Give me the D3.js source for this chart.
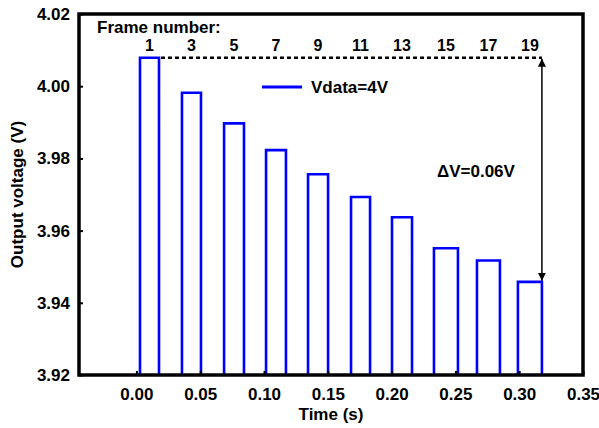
<!DOCTYPE html>
<html>
<head>
<meta charset="utf-8">
<script src="https://cdn.jsdelivr.net/npm/d3@7"></script>
<style>
  html, body { margin: 0; padding: 0; background: #fff; }
  svg { display: block; font-family: "Liberation Sans", Arial, sans-serif; font-weight: bold; }
  .tick-label { font-size: 17px; fill: #000; }
  .title { font-size: 17px; fill: #000; }
</style>
</head>
<body>
<div id="chart"></div>
<script>
// frame pulses (time in s, voltage in V)
const frameNumbers = [1, 3, 5, 7, 9, 11, 13, 15, 17, 19];
const pulseStart = [0.0028, 0.0357, 0.0687, 0.1016, 0.1345, 0.1682, 0.2003, 0.2332, 0.2669, 0.2990];
const pulseEnd = [0.0177, 0.0506, 0.0843, 0.1172, 0.1502, 0.1831, 0.2160, 0.2520, 0.2849, 0.3178];
const pulseVoltage = [4.0079, 3.9982, 3.9897, 3.9823, 3.9756, 3.9693, 3.9637, 3.9551, 3.9517, 3.9458];
const baseVoltage = 3.90;

const xTicks = [0.0, 0.05, 0.1, 0.15, 0.2, 0.25, 0.3, 0.35];
const yTicks = [3.92, 3.94, 3.96, 3.98, 4.0, 4.02];

const width = 599;
const height = 428;
const margin = { top: 14, right: 16, bottom: 53, left: 79 };

const svg = d3.select("#chart").append("svg")
  .attr("width", width)
  .attr("height", height);

const x = d3.scaleLinear()
  .domain([-0.045, 0.35])
  .range([margin.left, width - margin.right]);
const y = d3.scaleLinear()
  .domain([3.92, 4.02])
  .range([height - margin.bottom, margin.top]);

svg.append("clipPath").attr("id", "plot-clip")
  .append("rect")
  .attr("x", margin.left)
  .attr("y", margin.top)
  .attr("width", width - margin.left - margin.right)
  .attr("height", height - margin.top - margin.bottom);

// square-wave trace built from the pulse arrays
const trace = [[pulseStart[0] - 0.05, baseVoltage]];
pulseStart.forEach((start, i) => {
  trace.push([start, baseVoltage], [start, pulseVoltage[i]],
    [pulseEnd[i], pulseVoltage[i]], [pulseEnd[i], baseVoltage]);
});
trace.push([0.35, baseVoltage]);

svg.append("path")
  .datum(trace)
  .attr("clip-path", "url(#plot-clip)")
  .attr("fill", "none")
  .attr("stroke", "#0000ff")
  .attr("stroke-width", 2.6)
  .attr("stroke-linejoin", "miter")
  .attr("d", d3.line().x((d) => x(d[0])).y((d) => y(d[1])));

// axes: thin inward ticks, labels drawn by d3.axis
const axisX = svg.append("g")
  .attr("transform", `translate(0,${y.range()[0]})`)
  .call(d3.axisBottom(x).tickValues(xTicks).tickSizeInner(-4).tickSizeOuter(0).tickPadding(13)
    .tickFormat(d3.format(".2f")));
const axisY = svg.append("g")
  .attr("transform", `translate(${x.range()[0]},0)`)
  .call(d3.axisLeft(y).tickValues(yTicks).tickSizeInner(-4).tickSizeOuter(0).tickPadding(9)
    .tickFormat(d3.format(".2f")));

[axisX, axisY].forEach((axis) => {
  axis.select(".domain").remove();
  axis.selectAll(".tick line").attr("stroke", "#000").attr("stroke-width", 2);
  axis.selectAll(".tick text")
    .attr("class", "tick-label")
    .attr("font-family", null)
    .attr("font-size", null);
});

// frame box
svg.append("rect")
  .attr("x", x.range()[0])
  .attr("y", y.range()[1])
  .attr("width", x.range()[1] - x.range()[0])
  .attr("height", y.range()[0] - y.range()[1])
  .attr("fill", "none")
  .attr("stroke", "#000")
  .attr("stroke-width", 3.5);

// axis titles
svg.append("text")
  .attr("class", "title")
  .attr("x", (x.range()[0] + x.range()[1]) / 2)
  .attr("y", 420)
  .attr("text-anchor", "middle")
  .text("Time (s)");
svg.append("text")
  .attr("class", "title")
  .attr("transform", `translate(23,${(y.range()[0] + y.range()[1]) / 2}) rotate(-90)`)
  .attr("text-anchor", "middle")
  .text("Output voltage (V)");

// frame numbers over each pulse
svg.append("text")
  .attr("class", "title")
  .attr("x", 97)
  .attr("y", 33)
  .text("Frame number:");
svg.selectAll(".frame-label")
  .data(frameNumbers)
  .join("text")
  .attr("class", "frame-label title")
  .attr("x", (d, i) => x((pulseStart[i] + pulseEnd[i]) / 2))
  .attr("y", 51)
  .attr("text-anchor", "middle")
  .style("font-size", "16px")
  .text((d) => d);

// legend
svg.append("line")
  .attr("x1", 262).attr("x2", 302)
  .attr("y1", 87).attr("y2", 87)
  .attr("stroke", "#0000ff")
  .attr("stroke-width", 3);
svg.append("text")
  .attr("class", "title")
  .attr("x", 311)
  .attr("y", 93)
  .text("Vdata=4V");

// delta-V annotation: dashed reference + double arrow
const last = pulseVoltage.length - 1;
const arrowX = x(pulseEnd[last]);
svg.append("line")
  .attr("x1", x(pulseEnd[0]) + 2).attr("x2", arrowX)
  .attr("y1", y(pulseVoltage[0])).attr("y2", y(pulseVoltage[0]))
  .attr("stroke", "#000")
  .attr("stroke-width", 2.4)
  .attr("stroke-dasharray", "4,3");

const defs = svg.append("defs");
defs.append("marker")
  .attr("id", "arrow-head")
  .attr("viewBox", "0 0 10 10")
  .attr("refX", 10).attr("refY", 5)
  .attr("markerWidth", 8).attr("markerHeight", 13)
  .attr("markerUnits", "userSpaceOnUse")
  .attr("orient", "auto-start-reverse")
  .append("path")
  .attr("d", "M0,0 L10,5 L0,10 Z")
  .attr("fill", "#000");

svg.append("line")
  .attr("x1", arrowX).attr("x2", arrowX)
  .attr("y1", y(pulseVoltage[0]) + 1).attr("y2", y(pulseVoltage[last]) - 1)
  .attr("stroke", "#000")
  .attr("stroke-width", 1.5)
  .attr("marker-start", "url(#arrow-head)")
  .attr("marker-end", "url(#arrow-head)");

svg.append("text")
  .attr("class", "title")
  .attr("x", 437)
  .attr("y", 177)
  .text("\u0394V=0.06V");
</script>
</body>
</html>
